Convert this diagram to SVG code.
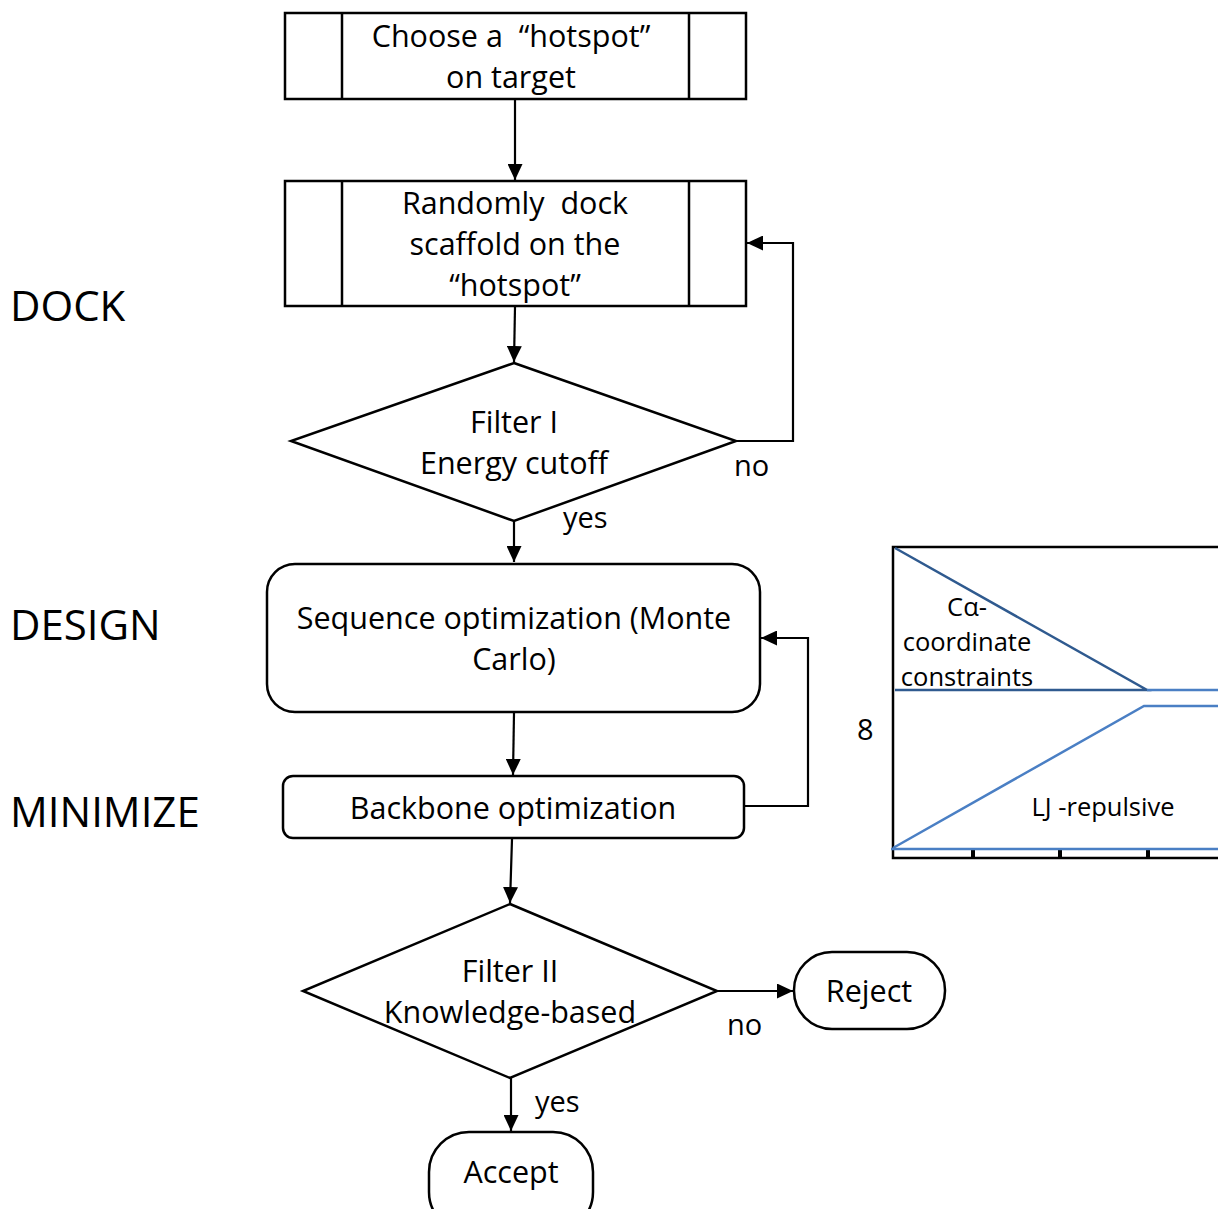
<svg xmlns="http://www.w3.org/2000/svg" width="1218" height="1209" viewBox="0 0 1218 1209">
<defs>
<marker id="ah" viewBox="0 0 10 10" refX="10" refY="5" markerWidth="16" markerHeight="15" markerUnits="userSpaceOnUse" orient="auto" preserveAspectRatio="none">
<path d="M0,0 L10,5 L0,10 z" fill="#000"/>
</marker>
<style>
.box{fill:#fff;stroke:#000;stroke-width:2.5}
.ln{fill:none;stroke:#000;stroke-width:2.5}
.con{fill:none;stroke:#000;stroke-width:2.2}
text{font-family:"Open Sans","Noto Sans",sans-serif;fill:#000}
.t{font-size:30.5px;text-anchor:middle}
.lbl{font-size:29px}
.big{font-size:42px}
.ch{font-size:25.5px}
.dk{stroke:#2f5a8f;stroke-width:2.5;fill:none}
.lt{stroke:#4a7fc4;stroke-width:2.5;fill:none}
</style>
</defs>
<rect width="1218" height="1209" fill="#fff"/>

<g id="labels">
<text class="big" x="10" y="321">DOCK</text>
<text class="big" x="10" y="640">DESIGN</text>
<text class="big" x="10" y="827">MINIMIZE</text>
</g>

<g id="connectors">
<line class="con" x1="515" y1="99" x2="515" y2="180" marker-end="url(#ah)"/>
<line class="con" x1="515" y1="307" x2="514" y2="362" marker-end="url(#ah)"/>
<polyline class="con" points="736,441 793,441 793,243 747,243" marker-end="url(#ah)"/>
<line class="con" x1="514" y1="521" x2="514" y2="562" marker-end="url(#ah)"/>
<line class="con" x1="514" y1="713" x2="513" y2="775" marker-end="url(#ah)"/>
<polyline class="con" points="745,806 808,806 808,638 761,638" marker-end="url(#ah)"/>
<line class="con" x1="512" y1="839" x2="510" y2="903" marker-end="url(#ah)"/>
<line class="con" x1="717" y1="991" x2="793" y2="991" marker-end="url(#ah)"/>
<line class="con" x1="511" y1="1078" x2="511" y2="1131" marker-end="url(#ah)"/>
<text class="lbl" x="734" y="476">no</text>
<text class="lbl" x="563" y="528">yes</text>
<text class="lbl" x="727" y="1035">no</text>
<text class="lbl" x="535" y="1112">yes</text>
</g>

<g id="n-choose">
<rect class="box" x="285" y="13" width="461" height="86"/>
<line class="ln" x1="342" y1="13" x2="342" y2="99"/>
<line class="ln" x1="689" y1="13" x2="689" y2="99"/>
<text class="t" x="511" y="47">Choose a&#160; “hotspot”</text>
<text class="t" x="511" y="88">on target</text>
</g>

<g id="n-dock">
<rect class="box" x="285" y="181" width="461" height="125"/>
<line class="ln" x1="342" y1="181" x2="342" y2="306"/>
<line class="ln" x1="689" y1="181" x2="689" y2="306"/>
<text class="t" x="515" y="214">Randomly&#160; dock</text>
<text class="t" x="515" y="255">scaffold on the</text>
<text class="t" x="515" y="296">“hotspot”</text>
</g>

<g id="n-filter1">
<polygon class="box" points="514,363 736,441 514,521 291,441"/>
<text class="t" x="514" y="433">Filter I</text>
<text class="t" x="514" y="474">Energy cutoff</text>
</g>

<g id="n-seq">
<rect class="box" x="267" y="564" width="493" height="148" rx="28"/>
<text class="t" x="514" y="629">Sequence optimization (Monte</text>
<text class="t" x="514" y="670">Carlo)</text>
</g>

<g id="n-backbone">
<rect class="box" x="283" y="776" width="461" height="62" rx="10"/>
<text class="t" x="513" y="819">Backbone optimization</text>
</g>

<g id="n-filter2">
<polygon class="box" points="510,904 717,991 510,1078 303,991"/>
<text class="t" x="510" y="982">Filter II</text>
<text class="t" x="510" y="1023">Knowledge-based</text>
</g>

<g id="n-reject">
<rect class="box" x="794" y="952" width="151" height="77" rx="38"/>
<text class="t" x="869" y="1002">Reject</text>
</g>

<g id="n-accept">
<rect class="box" x="429" y="1132" width="164" height="100" rx="40"/>
<text class="t" x="511" y="1183">Accept</text>
</g>

<g id="chart">
<polyline fill="none" stroke="#000" stroke-width="2.5" points="1218,547 893,547 893,858 1218,858"/>
<line stroke="#000" stroke-width="4" x1="973" y1="849" x2="973" y2="858"/>
<line stroke="#000" stroke-width="4" x1="1060" y1="849" x2="1060" y2="858"/>
<line stroke="#000" stroke-width="4" x1="1148" y1="849" x2="1148" y2="858"/>
<polyline class="dk" points="895,548 1147,690 895,690"/>
<line class="lt" x1="1147" y1="690" x2="1218" y2="690"/>
<polyline class="lt" points="893,848 1144,706 1218,706"/>
<line class="lt" x1="891" y1="849" x2="1218" y2="849"/>
<text class="ch" x="967" y="616" text-anchor="middle">Cα-</text>
<text class="ch" x="967" y="651" text-anchor="middle">coordinate</text>
<text class="ch" x="967" y="686" text-anchor="middle">constraints</text>
<text class="ch" x="1103" y="816" text-anchor="middle">LJ -repulsive</text>
<text class="lbl" x="857" y="740">8</text>
</g>
</svg>
